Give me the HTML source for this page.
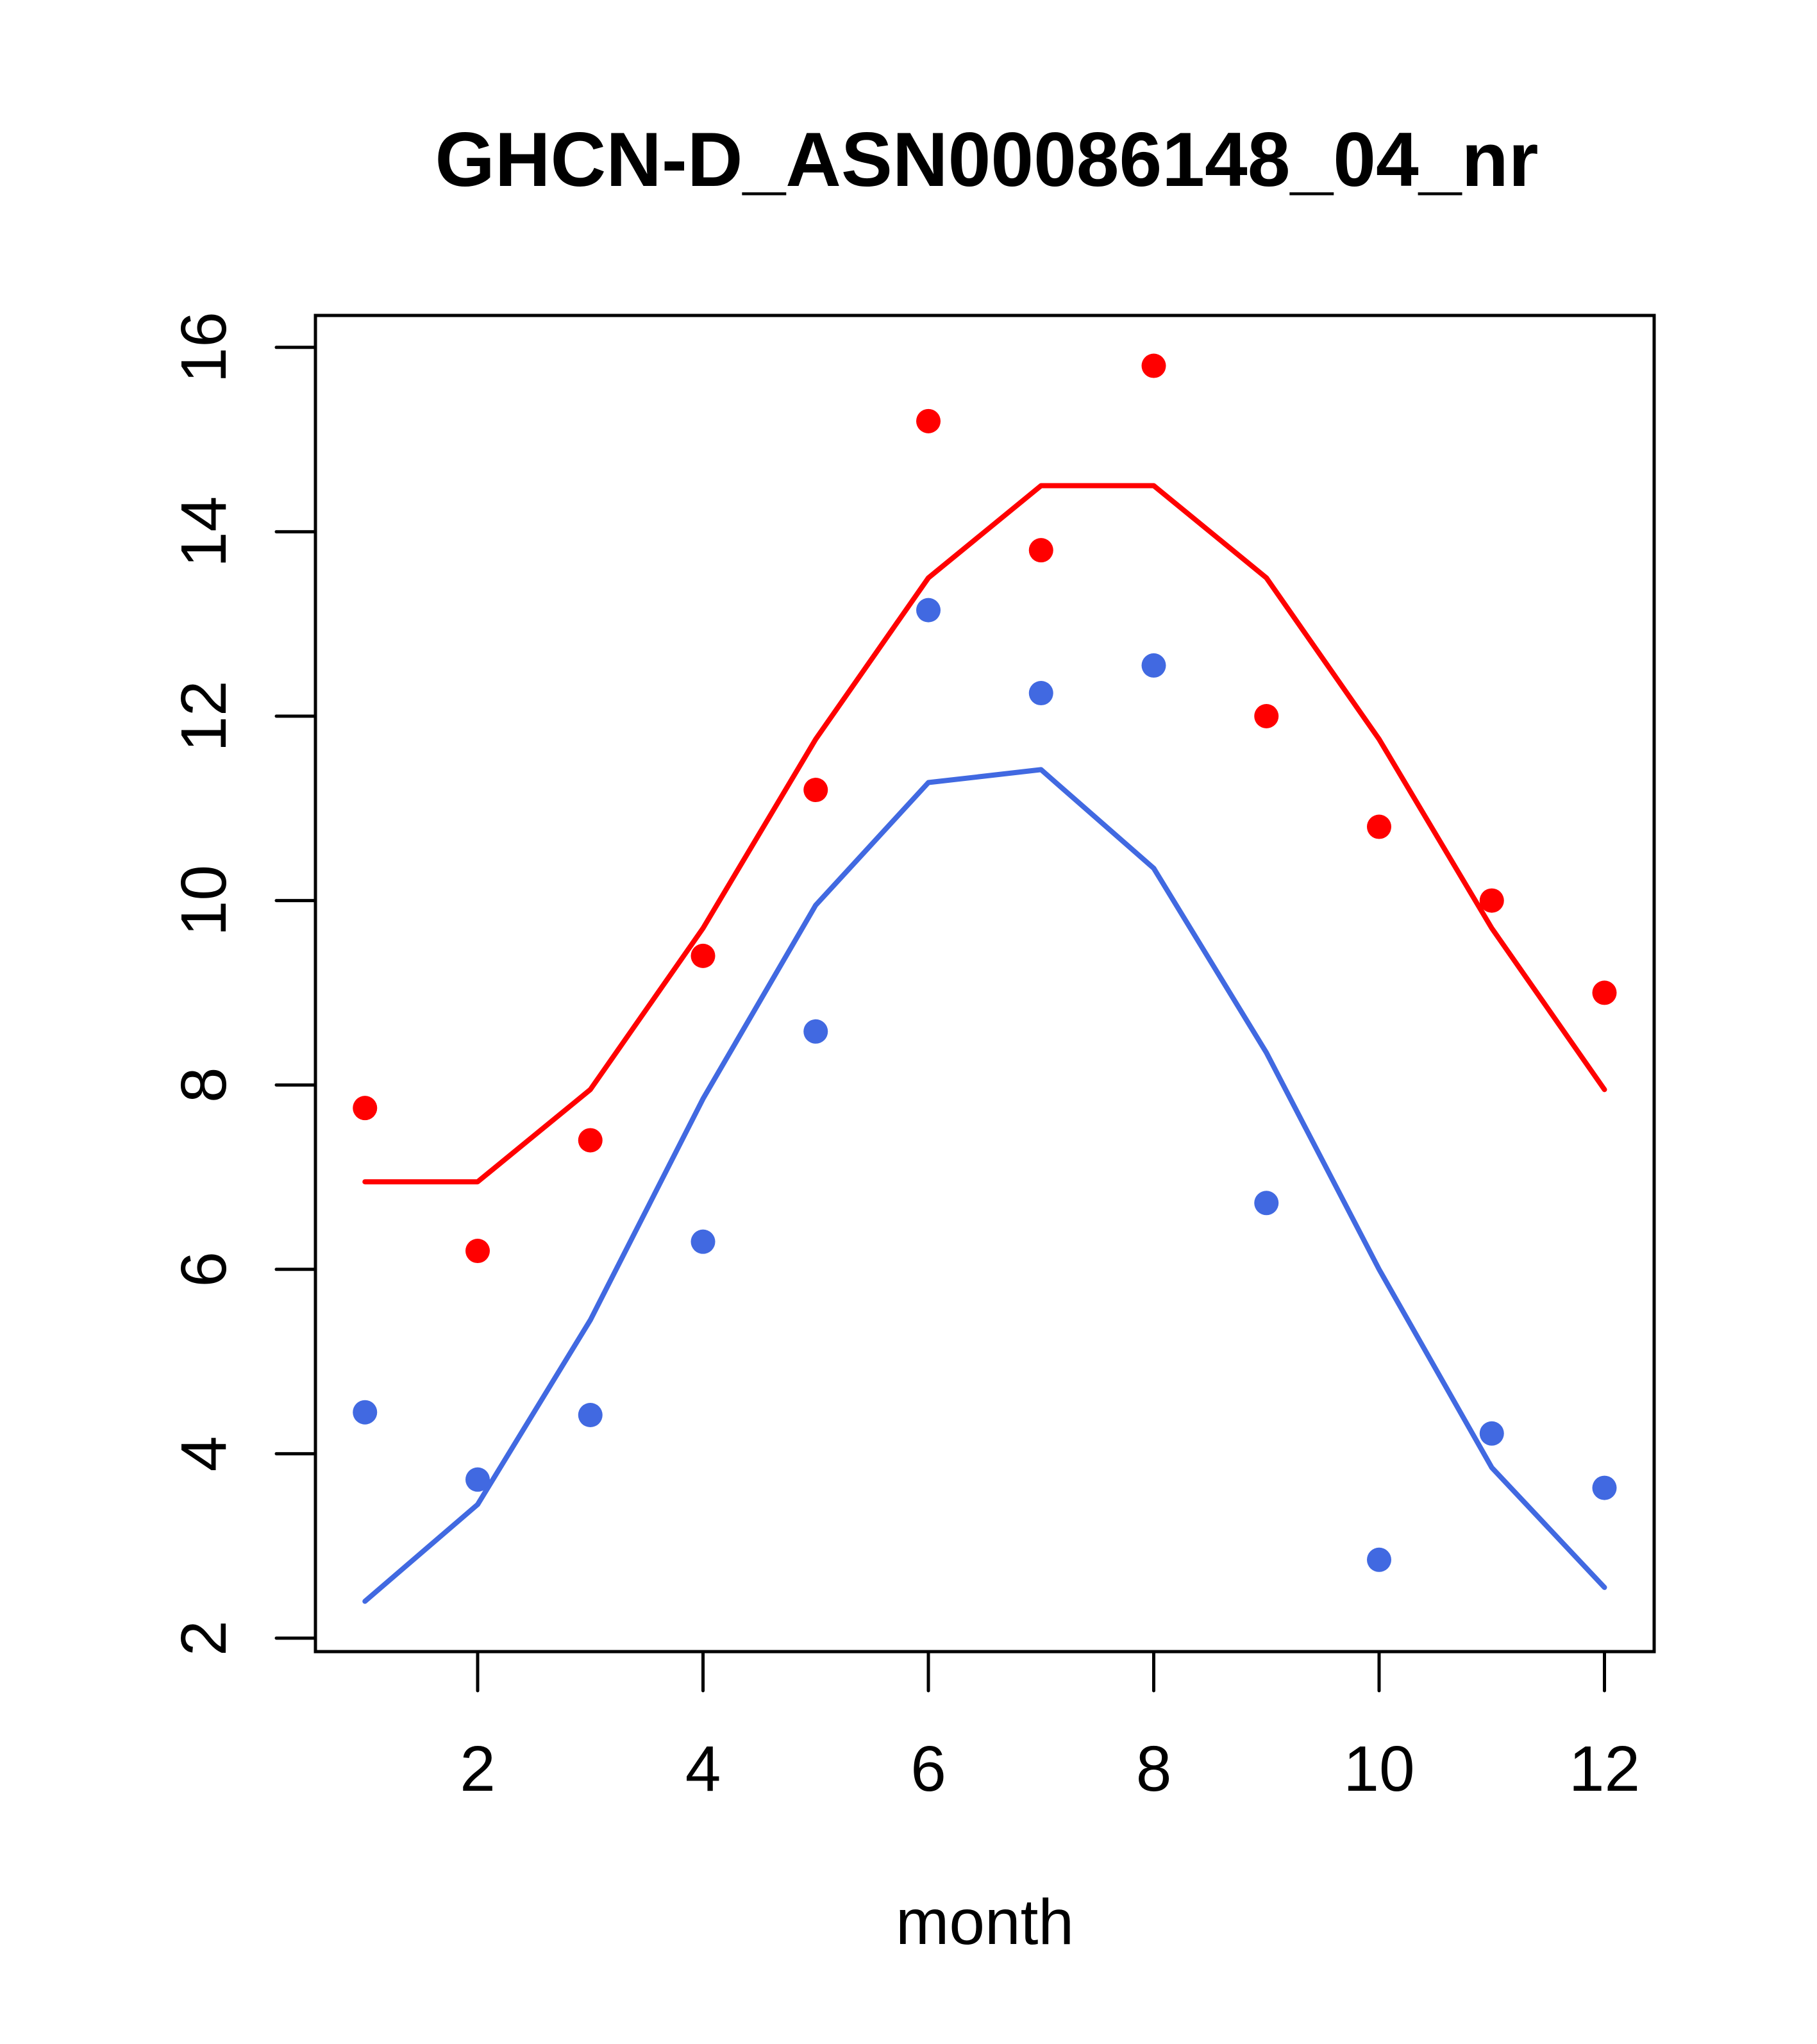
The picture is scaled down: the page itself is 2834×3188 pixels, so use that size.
<!DOCTYPE html>
<html><head><meta charset="utf-8"><style>
html,body{margin:0;padding:0;background:#fff}
svg{display:block}
text{font-family:"Liberation Sans",Arial,sans-serif;fill:#000}
</style></head><body>
<svg id="chart" width="2834" height="3188" viewBox="0 0 2834 3188" xmlns="http://www.w3.org/2000/svg">
<rect width="2834" height="3188" fill="#fff"/>
<text x="1539" y="290" font-size="120" font-weight="bold" text-anchor="middle">GHCN-D_ASN00086148_04_nr</text>
<text x="1536" y="3032" font-size="100" text-anchor="middle">month</text>
<g id="marks"></g>
<rect x="492" y="492" width="2088" height="2084" fill="none" stroke="#000" stroke-width="5"/>
<g id="axes"></g>
</svg>
<script>
const months = [1,2,3,4,5,6,7,8,9,10,11,12];
const redPoints = [7.75,6.2,7.4,9.4,11.2,15.2,13.8,15.8,12.0,10.8,10.0,9.0];
const redLine = [6.95,6.95,7.95,9.7,11.75,13.5,14.5,14.5,13.5,11.75,9.7,7.95];
const bluePoints = [4.45,3.72,4.42,6.3,8.58,13.15,12.25,12.55,6.72,2.85,4.22,3.63];
const blueLine = [2.4,3.45,5.45,7.85,9.95,11.28,11.42,10.35,8.35,6.0,3.85,2.55];
const xTicks = [2,4,6,8,10,12];
const yTicks = [2,4,6,8,10,12,14,16];

const NS = "http://www.w3.org/2000/svg";
function xs(v){ return 745 + (v-2)*175.75; }
function ys(v){ return 2555 - (v-2)*143.8; }
const marks = document.getElementById('marks');
const axes = document.getElementById('axes');
function mk(tag, attrs, parent){
  const e = document.createElementNS(NS, tag);
  for (const k in attrs) e.setAttribute(k, attrs[k]);
  parent.appendChild(e);
  return e;
}
function drawLine(vals, color, name){
  const p = mk('polyline', {points: vals.map((v,i)=>xs(months[i])+','+ys(v)).join(' '), fill:'none', stroke:color, 'stroke-width':8, 'stroke-linejoin':'round', 'stroke-linecap':'round'}, marks);
  
  
}
function drawPoints(vals, color, name){
  vals.forEach((v,i)=>{
    const c = mk('circle', {cx: xs(months[i]), cy: ys(v), r: 19, fill: color}, marks);
    
    
  });
}
drawLine(redLine, '#ff0000', 'red-line');
drawLine(blueLine, '#4169e1', 'blue-line');
drawPoints(redPoints, '#ff0000', 'red-point');
drawPoints(bluePoints, '#4169e1', 'blue-point');

xTicks.forEach(t=>{
  const l = mk('line', {x1: xs(t), x2: xs(t), y1: 2576, y2: 2637, stroke:'#000', 'stroke-width':5, 'stroke-linecap':'round'}, axes);
  
  
  const tx = mk('text', {x: xs(t), y: 2793, 'font-size': 100, 'text-anchor':'middle'}, axes);
  tx.textContent = t;
  
  
});
yTicks.forEach(t=>{
  const l = mk('line', {x1: 431, x2: 492, y1: ys(t), y2: ys(t), stroke:'#000', 'stroke-width':5, 'stroke-linecap':'round'}, axes);
  
  
  const tx = mk('text', {x: 352, y: ys(t), 'font-size': 100, 'text-anchor':'middle', transform: 'rotate(-90 352 '+ys(t)+')'}, axes);
  tx.textContent = t;
  
  
});
</script>
</body></html>
